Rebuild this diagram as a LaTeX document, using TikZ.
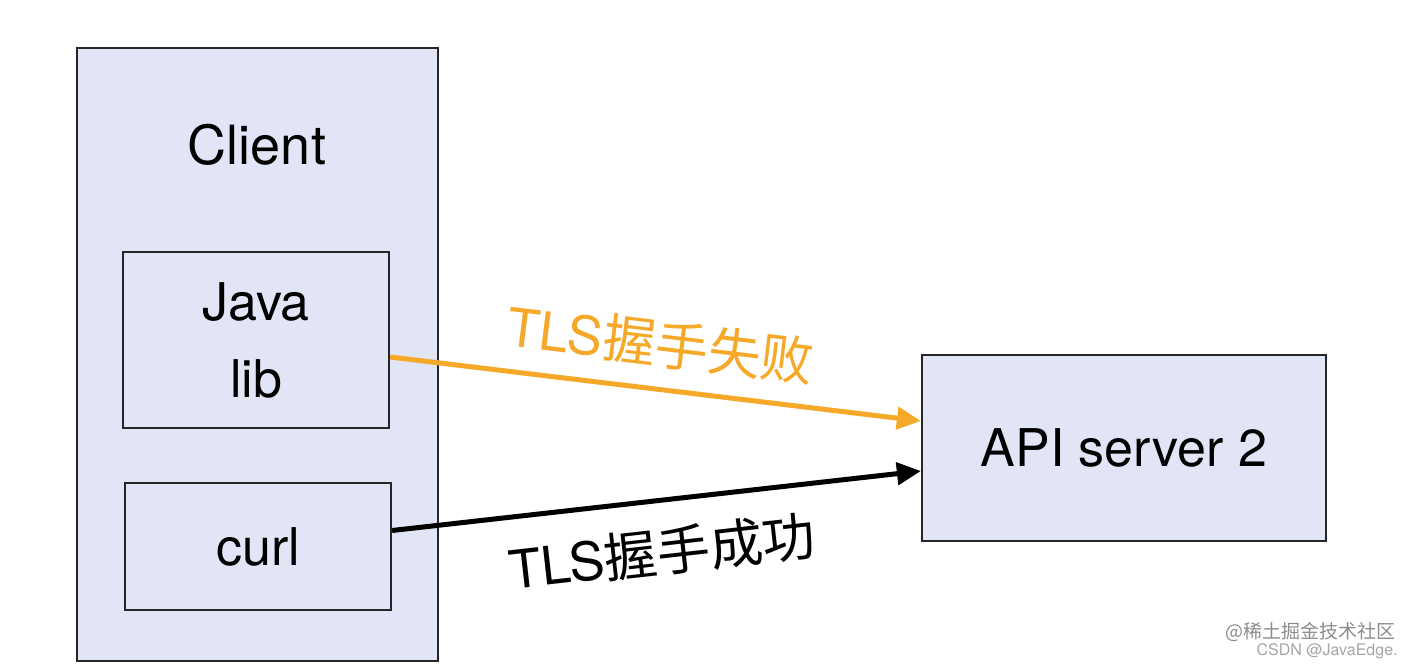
\documentclass[tikz,border=0pt]{standalone}
\usepackage{fontspec}
\setmainfont{TeX Gyre Heros}
\newfontfamily\cjk{Noto Sans CJK SC}
\usetikzlibrary{arrows.meta}
\definecolor{boxfill}{RGB}{225,229,245}
\definecolor{failorange}{RGB}{246,168,40}
\tikzset{
  box/.style={draw=black!85, line width=1.1pt, fill=boxfill, inner sep=0pt},
  boxtext/.style={font=\fontsize{26}{38.5}\selectfont, align=center},
  link/.style={line width=2.5pt, -{Triangle[length=12pt,width=11pt]}},
}
\begin{document}
\begin{tikzpicture}[x=0.5pt, y=-0.5pt]
                \useasboundingbox (0,0) rectangle (1414,664);
                % client side
                \node[box, minimum width=180.5pt, minimum height=306.5pt] (client) at (257.5,354.5) {};
                \node[boxtext, font=\fontsize{27}{32}\selectfont] (clientname) at (257,145) {Client};
                \node[box, boxtext, minimum width=133pt, minimum height=88pt] (java) at (256,340) {Java\\lib};
                \node[box, boxtext, minimum width=133pt, minimum height=63.5pt] (curl) at (258,546.5) {curl};
                % server
                \node[box, boxtext, minimum width=202pt, minimum height=93pt] (api) at (1124,448) {API server 2};
                % handshakes
                \draw[link, failorange] ([yshift=-8.5pt]java.east) -- node[sloped, above=6pt, font=\fontsize{26.5}{30}\selectfont] (failtext) {TLS{\cjk 握手失败}} ([yshift=13.5pt]api.west);
                \draw[link, black] ([yshift=8pt]curl.east) -- node[sloped, below=9pt, font=\fontsize{26.5}{30}\selectfont] (oktext) {TLS{\cjk 握手成功}} ([yshift=-11.5pt]api.west);
                % watermark
                \node[anchor=east, text=black!45, font=\cjk\fontsize{9.5}{11}\selectfont, inner sep=0pt] (mark1) at (1396,632) {@稀土掘金技术社区};
                \node[anchor=east, text=black!35, font=\fontsize{8}{10}\selectfont, inner sep=0pt] (mark2) at (1398,651) {CSDN @JavaEdge.};
\end{tikzpicture}
\end{document}
